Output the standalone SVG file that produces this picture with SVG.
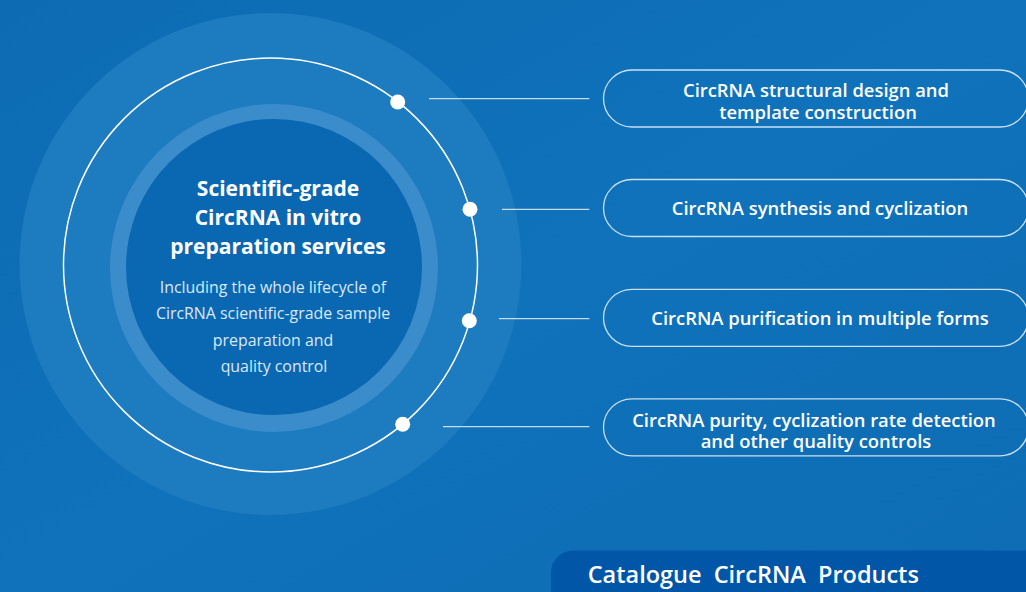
<svg xmlns="http://www.w3.org/2000/svg" width="1026" height="592" viewBox="0 0 1026 592">
  <defs>
    <linearGradient id="bg" x1="0" y1="0" x2="1" y2="1">
      <stop offset="0" stop-color="#0c6bb3"/>
      <stop offset="0.5" stop-color="#0f72ba"/>
      <stop offset="1" stop-color="#0d6cb4"/>
    </linearGradient>
    <style>
      .pill { fill: none; stroke: rgba(255,255,255,0.78); stroke-width: 1.3; }
      .ptxt { font-family: "Open Sans", "Noto Sans", sans-serif; font-weight: 600; font-size: 18.4px; fill: #ffffff; text-anchor: middle; }
      .title { font-family: "Open Sans", "Noto Sans", sans-serif; font-weight: 700; font-size: 21px; fill: #ffffff; text-anchor: middle; }
      .sub { font-family: "Open Sans", "Noto Sans", sans-serif; font-weight: 400; font-size: 15.9px; fill: #dbe8f5; text-anchor: middle; }
      .conn { stroke: rgba(255,255,255,0.75); stroke-width: 1.3; fill: none; }
      .dot { fill: #ffffff; }
      .banner { font-family: "Open Sans", "Noto Sans", sans-serif; font-weight: 600; font-size: 23.5px; fill: #ffffff; word-spacing: 6px; }
    </style>
  </defs>

  <rect x="0" y="0" width="1026" height="592" fill="url(#bg)"/>

  <g id="center-node">
    <circle cx="270.5" cy="264" r="251" fill="#1d7bbf"/>
    <circle cx="270.5" cy="265" r="207" fill="none" stroke="#ffffff" stroke-width="1.5"/>
    <circle cx="274" cy="268" r="164" fill="#3a8dca"/>
    <circle cx="274" cy="267" r="148" fill="#0a68b3"/>
    <text class="title" x="278" y="196">Scientific-grade</text>
    <text class="title" x="278" y="225">CircRNA in vitro</text>
    <text class="title" x="278" y="254">preparation services</text>
    <text class="sub" x="273" y="292.5">Including the whole lifecycle of</text>
    <text class="sub" x="273" y="319">CircRNA scientific-grade sample</text>
    <text class="sub" x="273" y="345.5">preparation and</text>
    <text class="sub" x="274" y="372">quality control</text>
  </g>

  <g id="connectors">
    <line class="conn" x1="429" y1="98.7" x2="589.3" y2="98.7"/>
    <line class="conn" x1="502" y1="209.3" x2="589.3" y2="209.3"/>
    <line class="conn" x1="499" y1="318.7" x2="589.3" y2="318.7"/>
    <line class="conn" x1="443" y1="426.7" x2="589.3" y2="426.7"/>
    <circle class="dot" cx="397.7" cy="102" r="7.5"/>
    <circle class="dot" cx="470" cy="209.3" r="7.5"/>
    <circle class="dot" cx="469.3" cy="320.7" r="7.5"/>
    <circle class="dot" cx="402.7" cy="424.3" r="7.5"/>
  </g>

  <g id="node-1">
    <rect class="pill" x="603.5" y="70" width="425" height="57" rx="28.5"/>
    <text class="ptxt" x="816" y="97">CircRNA structural design and</text>
    <text class="ptxt" x="818" y="119">template construction</text>
  </g>
  <g id="node-2">
    <rect class="pill" x="603.5" y="179.5" width="425" height="57" rx="28.5"/>
    <text class="ptxt" x="820" y="215">CircRNA synthesis and cyclization</text>
  </g>
  <g id="node-3">
    <rect class="pill" x="603.5" y="289.3" width="425" height="57" rx="28.5"/>
    <text class="ptxt" x="820" y="325">CircRNA purification in multiple forms</text>
  </g>
  <g id="node-4">
    <rect class="pill" x="603.5" y="398.8" width="425" height="57" rx="28.5"/>
    <text class="ptxt" x="814" y="426.5">CircRNA purity, cyclization rate detection</text>
    <text class="ptxt" x="816" y="447.5">and other quality controls</text>
  </g>

  <g id="banner">
    <rect x="551" y="550.5" width="500" height="60" rx="22" fill="#0256a8"/>
    <text class="banner" x="587.7" y="583.3">Catalogue CircRNA Products</text>
  </g>
</svg>
